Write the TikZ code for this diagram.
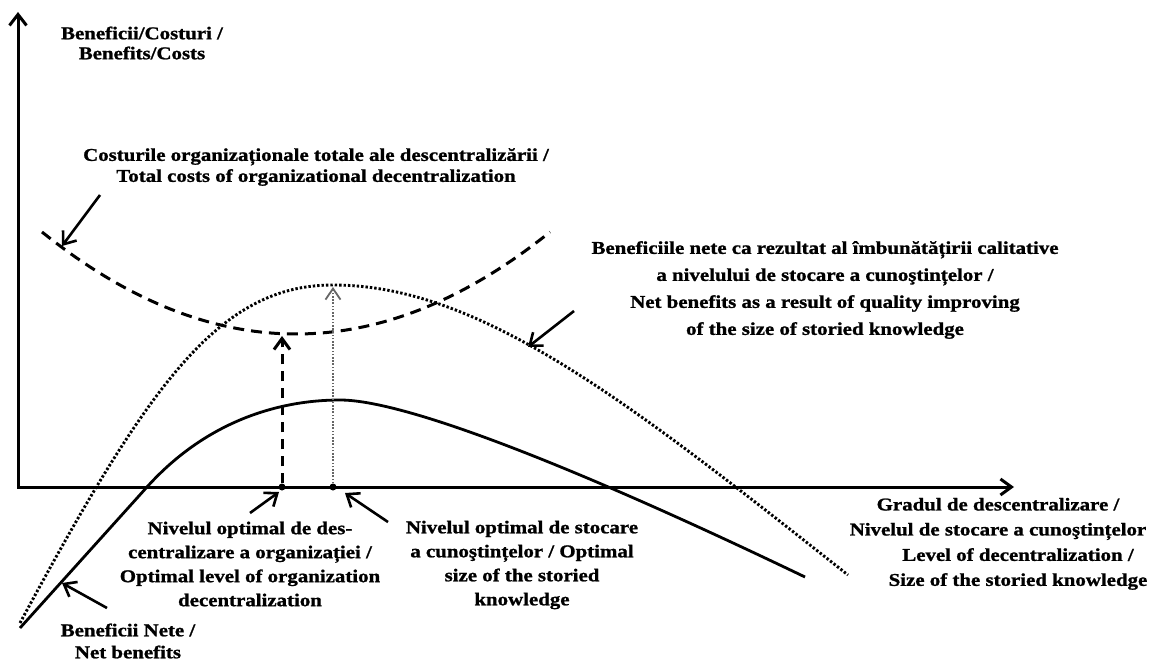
\documentclass[tikz,border=0pt]{standalone}
\usepackage{fontspec}
\setmainfont{Liberation Serif}[FakeStretch=1.16, BoldFeatures={FakeBold=1.2}]
\usetikzlibrary{arrows.meta}

\begin{document}
\begin{tikzpicture}[x=1pt,y=-1pt,
  lbl/.style={font=\bfseries\fontsize{18}{#1}\selectfont, align=center, inner sep=0pt},
  lbl/.default=22,
  barb/.style={-{Straight Barb[length=11pt,width=17pt]}},
  axisline/.style={line width=3pt, line join=miter},
  leader/.style={line width=2.6pt, barb},
  netcurve/.style={line width=2.8pt},
  costcurve/.style={line width=3pt, dash pattern=on 11pt off 7pt},
  knowcurve/.style={line width=2.9pt, dash pattern=on 2.4pt off 2pt},
  costarrow/.style={line width=3pt, dash pattern=on 10pt off 7pt, -{Straight Barb[length=11pt,width=16pt]}},
  knowarrow/.style={line width=1.8pt, black!60, dash pattern=on 1.6pt off 1.6pt, -{Straight Barb[length=11pt,width=15pt]}},
  dot/.style={circle, fill=black, inner sep=0pt, minimum size=7pt}
]
\useasboundingbox (0,0) rectangle (1154,660);

% axes
\coordinate (O) at (18,487);
\coordinate (ytop) at (18,12);
\coordinate (xend) at (1014,487);
\draw[axisline, {Straight Barb[length=11pt,width=17pt]}-{Straight Barb[length=11pt,width=16pt]}] (ytop) -- (O) -- (xend);

% total costs of decentralization (dashed)
\draw[costcurve] plot[domain=42:550, samples=80] (\x, {334 - 102*((\x-296)/254)^2});

% net benefits from storied knowledge (dotted)
\draw[knowcurve] (20,623) .. controls (150,381.2) and (220,285) .. (333,285)
  .. controls (480,285) and (628,401.2) .. (848,575);

% net benefits (solid)
\draw[netcurve] (20,628) -- (147,487)
  .. controls (207,420.4) and (280,400) .. (340,400)
  .. controls (400,400) and (555,457) .. (805,577);

% optimum markers on the horizontal axis
\node[dot] (dA) at (282,487) {};
\node[dot] (dB) at (333,487) {};
\coordinate (cmin) at (282,336);
\coordinate (kmax) at (333,287);
\draw[costarrow] (dA) -- (cmin);
\draw[knowarrow] (dB) -- (kmax);

% labels
\node[lbl=20] (ylab) at (142,43) {Beneficii/Costuri /\\Benefits/Costs};
\node[lbl=21] (clab) at (316,167) {Costurile organizaționale totale ale descentralizării /\\Total costs of organizational decentralization};
\node[lbl=27] (klab) at (825,290) {Beneficiile nete ca rezultat al îmbunătățirii calitative\\a nivelului de stocare a cunoştințelor /\\Net benefits as a result of quality improving\\of the size of storied knowledge};
\node[lbl=25] (xlab1) at (998,519) {Gradul de descentralizare /\\Nivelul de stocare a cunoştințelor};
\node[lbl=25] (xlab2) at (1018,569) {Level of decentralization /\\Size of the storied knowledge};
\node[lbl=24] (dlab) at (250,564) {Nivelul optimal de des-\\centralizare a organizației /\\Optimal level of organization\\decentralization};
\node[lbl=24] (slab) at (522,565) {Nivelul optimal de stocare\\a cunoştințelor / Optimal\\size of the storied\\knowledge};
\node[lbl=22] (nlab) at (128,641) {Beneficii Nete /\\Net benefits};

% leader arrows from labels to curves and markers
\coordinate (costTail) at (100,195);
\coordinate (costTip) at (62,246);
\draw[leader] (costTail) -- (costTip);
\coordinate (knowTail) at (574,311);
\coordinate (knowTip) at (528,347);
\draw[leader] (knowTail) -- (knowTip);
\coordinate (netTail) at (107,608);
\coordinate (netTip) at (62,583);
\draw[leader] (netTail) -- (netTip);
\coordinate (decTail) at (250,513);
\coordinate (decTip) at (279,492);
\draw[leader] (decTail) -- (decTip);
\coordinate (stoTail) at (388,522);
\coordinate (stoTip) at (345,493);
\draw[leader] (stoTail) -- (stoTip);
\end{tikzpicture}
\end{document}
